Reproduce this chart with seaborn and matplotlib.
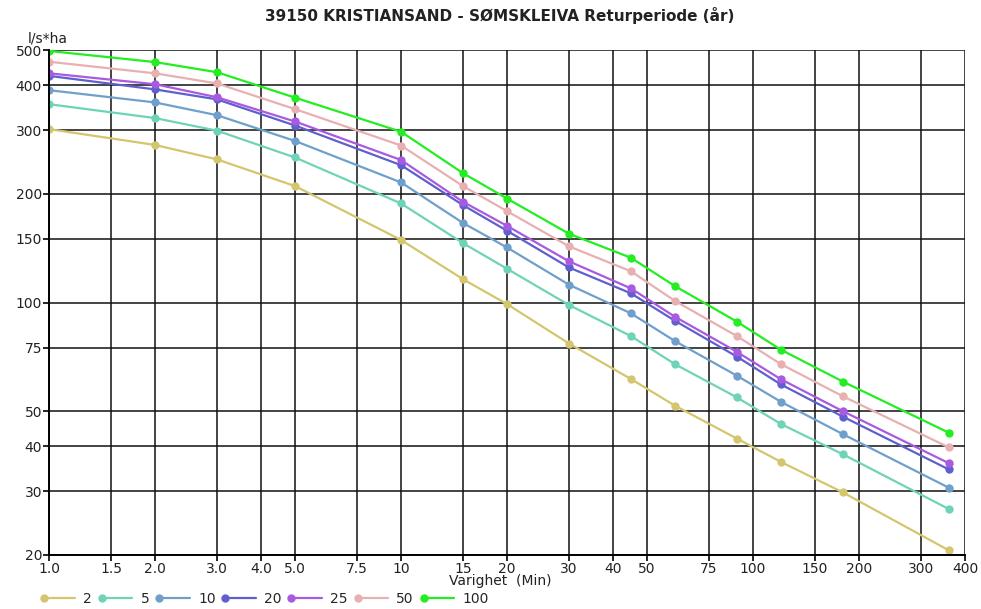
import numpy as np
import pandas as pd
import matplotlib
matplotlib.use("Agg")
import matplotlib.pyplot as plt
import seaborn as sns
from matplotlib.lines import Line2D
from matplotlib.legend_handler import HandlerLine2D
from matplotlib.ticker import FixedLocator, FixedFormatter, NullLocator

# durations in minutes and one series per return period (l/s*ha)
durations = [1, 2, 3, 5, 10, 15, 20, 30, 45, 60, 90, 120, 180, 360]
periods = ["2", "5", "10", "20", "25", "50", "100"]

rp2   = [302, 273, 249, 210, 149, 116, 99, 77, 61.4, 51.8, 42, 36.2, 29.8, 20.6]
rp5   = [354, 324, 299, 252, 188, 146, 124, 98.4, 80.7, 67.5, 54.6, 46.1, 38, 26.8]
rp10  = [387, 358, 330, 280, 215, 166, 142, 112, 93.3, 78.2, 62.7, 53.1, 43.2, 30.7]
rp20  = [424, 389, 365, 309, 240, 186, 158, 125, 106, 89, 70.8, 59.3, 48.3, 34.5]
rp25  = [431, 402, 370, 317, 248, 190, 163, 130, 109.4, 91.3, 73, 61.3, 50, 35.9]
rp50  = [464, 431, 404, 343, 272, 210, 179, 143, 122, 101, 80.7, 67.5, 55, 39.7]
rp100 = [497, 463, 434, 369, 297, 228, 194, 155, 133, 111, 88.5, 74, 60.4, 43.6]

colors = ["#d4c66e", "#6fd3b8", "#6fa0cc", "#5f5fcf", "#a85ae0", "#e8b0b0", "#22ee22"]

x_ticks = [1, 1.5, 2, 3, 4, 5, 7.5, 10, 15, 20, 30, 40, 50, 75, 100, 150, 200, 300, 400]
x_labels = ["1.0", "1.5", "2.0", "3.0", "4.0", "5.0", "7.5", "10", "15", "20",
            "30", "40", "50", "75", "100", "150", "200", "300", "400"]
y_ticks = [20, 30, 40, 50, 75, 100, 150, 200, 300, 400, 500]
y_labels = [str(v) for v in y_ticks]

#long table for seaborn
series = [rp2, rp5, rp10, rp20, rp25, rp50, rp100]
rows = []
for p, vals in zip(periods, series):
    for d, v in zip(durations, vals):
        rows.append({"Varighet": d, "Intensitet": v, "Returperiode": p})
df = pd.DataFrame(rows)

sns.set_style("white")
plt.rcParams["font.family"] = ["DejaVu Sans"]

fig = plt.figure(figsize=(9.81, 6.09), dpi=100)
ax = fig.add_axes([49 / 981, 1 - 555 / 609, (965 - 49) / 981, (555 - 50) / 609])

sns.lineplot(
    data=df, x="Varighet", y="Intensitet", hue="Returperiode",
    hue_order=periods, palette=colors, marker="o", markersize=6,
    markeredgewidth=0, linewidth=1.6, legend=False, ax=ax
)

ax.set_xscale("log")
ax.set_yscale("log")
ax.set_xlim(1, 400)
ax.set_ylim(20, 500)

ax.xaxis.set_major_locator(FixedLocator(x_ticks))
ax.xaxis.set_major_formatter(FixedFormatter(x_labels))
ax.xaxis.set_minor_locator(NullLocator())
ax.yaxis.set_major_locator(FixedLocator(y_ticks))
ax.yaxis.set_major_formatter(FixedFormatter(y_labels))
ax.yaxis.set_minor_locator(NullLocator())

ax.grid(True, color="#111111", linewidth=1.1)
ax.set_axisbelow(True)
for s in ["left", "bottom"]:
    ax.spines[s].set_color("black")
    ax.spines[s].set_linewidth(1.4)
for s in ["top", "right"]:
    ax.spines[s].set_visible(False)

ax.tick_params(axis="both", direction="out", length=4, width=1.2, color="black",
               labelsize=10, pad=1, labelcolor="#222222")
ax.tick_params(axis="x", bottom=True)
ax.tick_params(axis="y", left=True)

ax.set_xlabel("")
ax.set_ylabel("")
fig.text(500 / 981, 1 - 581 / 609, "Varighet  (Min)", ha="center", va="center",
         fontsize=10, color="#222222")
fig.text(28 / 981, 1 - 38 / 609, "l/s*ha", ha="left", va="center",
         fontsize=10, color="#222222")
fig.text(500 / 981, 1 - 15 / 609, "39150 KRISTIANSAND - SØMSKLEIVA Returperiode (år)",
         ha="center", va="center", fontsize=11, fontweight="bold", color="#222222")


#legend handle with the marker sitting at the left end of the line
class LeftMarkerHandler(HandlerLine2D):
    def create_artists(self, legend, orig_handle, xdescent, ydescent,
                       width, height, fontsize, trans):
        y = (height - ydescent) / 2
        line = Line2D([-xdescent, width - xdescent], [y, y],
                      color=orig_handle.get_color(), linewidth=orig_handle.get_linewidth())
        dot = Line2D([-xdescent], [y], linestyle="none", marker="o",
                     markersize=orig_handle.get_markersize(), markeredgewidth=0,
                     color=orig_handle.get_color())
        line.set_transform(trans)
        dot.set_transform(trans)
        return [line, dot]


handles = [Line2D([], [], color=c, linewidth=1.6, marker="o", markersize=6) for c in colors]
fig.legend(handles, periods, loc="lower left", bbox_to_anchor=(36 / 981, -0.008),
           ncol=7, frameon=False, fontsize=10, handlelength=2.2, handletextpad=0.6,
           columnspacing=0.7, borderpad=0.1,
           handler_map={Line2D: LeftMarkerHandler()})

plt.savefig("out.png", dpi=100)
